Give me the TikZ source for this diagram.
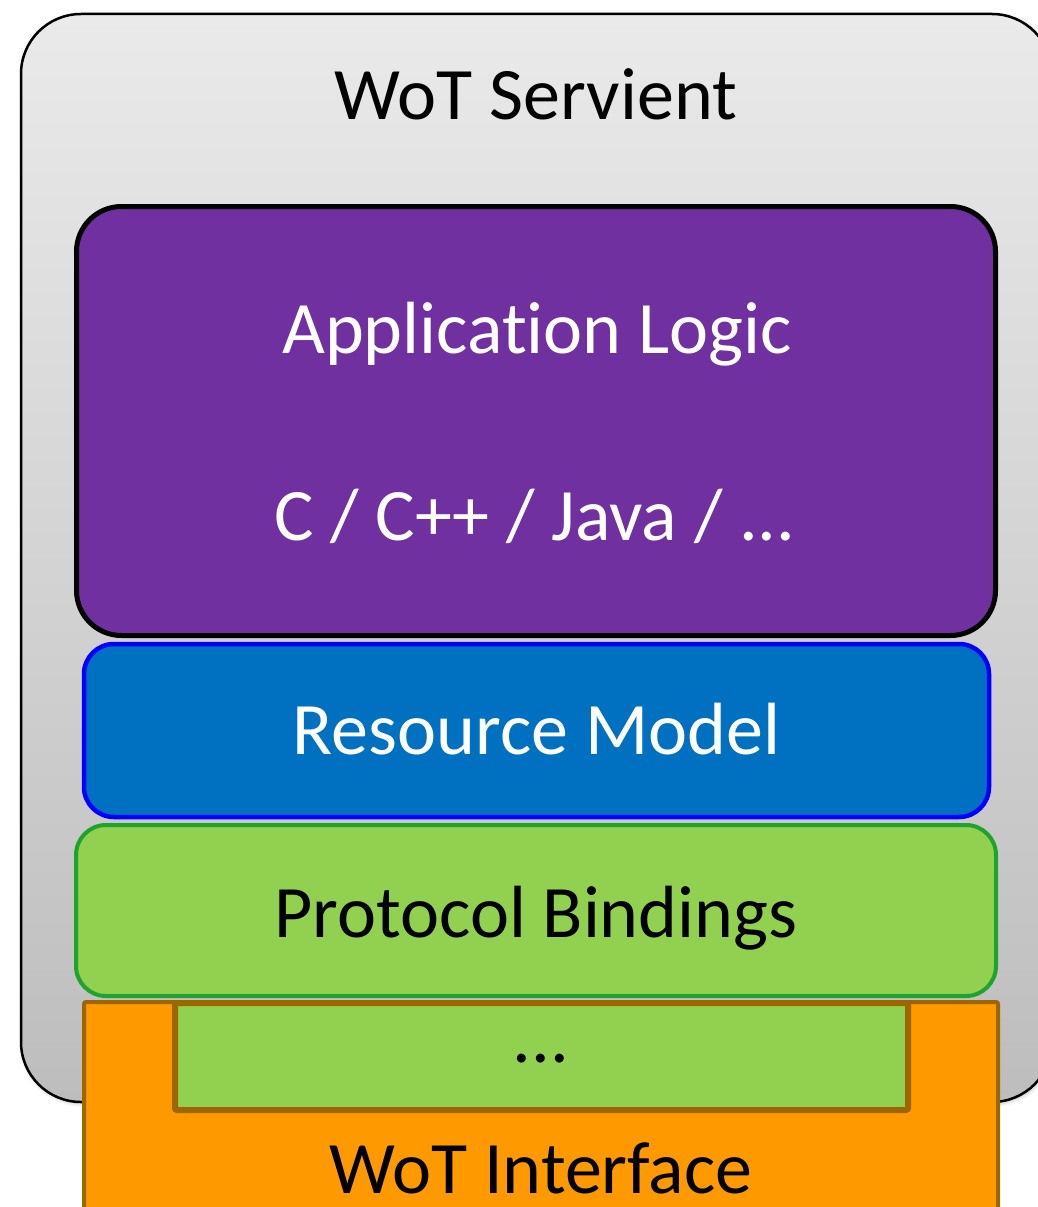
\documentclass[tikz,border=0pt]{standalone}
\usepackage{fontspec}
\setmainfont[Ligatures=NoCommon]{Carlito}
\usetikzlibrary{shadows.blur}
\definecolor{servtop}{HTML}{EAEAEA}
\definecolor{servbot}{HTML}{BDBDBD}
\definecolor{applogic}{HTML}{7030A0}
\definecolor{resfill}{HTML}{0070C0}
\definecolor{resline}{HTML}{0000FF}
\definecolor{protofill}{HTML}{92D050}
\definecolor{protoline}{HTML}{20A32E}
\definecolor{ifacefill}{HTML}{FF9900}
\definecolor{ifaceline}{HTML}{9C6600}
\tikzset{
  x=1pt, y=-1pt,
  layer/.style={draw, rectangle, inner sep=0pt, outer sep=0pt},
  label text/.style={anchor=base, inner sep=0pt, font=\fontsize{74}{88}\selectfont},
}
\begin{document}
\begin{tikzpicture}
\useasboundingbox (0,0) rectangle (1038,1207);
\clip (0,0) rectangle (1038,1207);
% servient container
\node[layer, line width=2.5pt, rounded corners=60pt, top color=servtop, bottom color=servbot,
      blur shadow={shadow xshift=1.5pt, shadow yshift=-1.5pt, shadow blur radius=4pt, shadow opacity=25},
      minimum width=1031pt, minimum height=1088pt] (servient) at (536.5,558) {};
% application logic
\node[layer, line width=5pt, rounded corners=45pt, fill=applogic,
      minimum width=919pt, minimum height=429pt] (app) at (536,421) {};
% resource model
\node[layer, draw=resline, line width=4.5pt, rounded corners=30pt, fill=resfill,
      minimum width=905pt, minimum height=173pt] (res) at (536.5,730.5) {};
% protocol bindings
\node[layer, draw=protoline, line width=4pt, rounded corners=30pt, fill=protofill,
      minimum width=920pt, minimum height=171pt] (proto) at (536,910.5) {};
% wot interface
\node[layer, draw=ifaceline, line width=4pt, rounded corners=2pt, fill=ifacefill,
      minimum width=914pt, minimum height=213pt] (iface) at (541,1108.5) {};
% further bindings
\node[layer, draw=ifaceline, line width=6pt, rounded corners=2pt, fill=protofill,
      minimum width=733pt, minimum height=107pt] (more) at (541.5,1056.5) {};
% labels
\node[label text] (tserv) at (536,119) {WoT Servient};
\node[label text, text=white] (tapp) at (537,353) {Application Logic};
\node[label text, text=white] (tlang) at (535,540) {C / C++ / Java / ...};
\node[label text, text=white] (tres) at (536.5,754) {Resource Model};
\node[label text] (tproto) at (536,937) {Protocol Bindings};
\node[label text] (tmore) at (541,1062) {...};
\node[label text] (tiface) at (541,1193) {WoT Interface};
\end{tikzpicture}
\end{document}
